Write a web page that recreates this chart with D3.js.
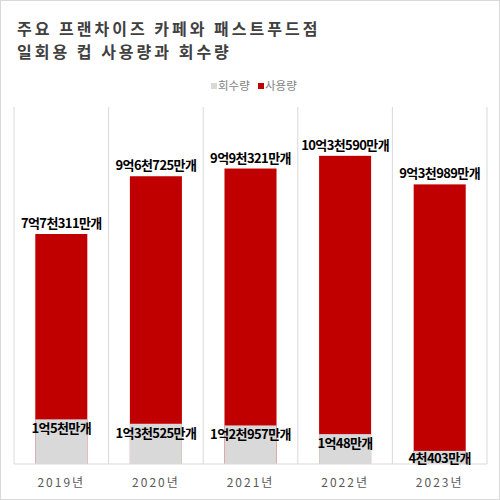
<!DOCTYPE html>
<html><head><meta charset="utf-8">
<script src="https://cdn.jsdelivr.net/npm/d3@7"></script>
<style>
html,body{margin:0;padding:0;background:#fff;}
text{font-family:"Noto Sans CJK KR","Noto Sans",sans-serif;}
</style></head>
<body>
<svg id="chart" width="500" height="500"></svg>
<script>
const titleLines = ["주요 프랜차이즈 카페와 패스트푸드점", "일회용 컵 사용량과 회수량"];
const categories = ["2019년", "2020년", "2021년", "2022년", "2023년"];
const seriesNames = ["회수량", "사용량"];
// values in 만개
const usage = [77311, 96725, 99321, 103590, 93989];
const usageLabels = ["7억7천311만개", "9억6천725만개", "9억9천321만개", "10억3천590만개", "9억3천989만개"];
const recovery = [15000, 13525, 12957, 10048, 4403];
const recoveryLabels = ["1억5천만개", "1억3천525만개", "1억2천957만개", "1억48만개", "4천403만개"];
const yMax = 120000;

(function(){
const svg = d3.select("#chart");
svg.append("rect").attr("x",0.5).attr("y",0.5).attr("width",499).attr("height",499)
  .attr("fill","#fff").attr("stroke","#d9d9d9");

const pLeft = 14, pRight = 487, pTop = 107, pBottom = 464;
const x = d3.scaleBand().domain(categories).range([pLeft, pRight]).paddingInner(0).paddingOuter(0);
const y = d3.scaleLinear().domain([0, yMax]).range([pBottom, pTop]);
const barW = x.bandwidth() * 0.55;
const bx = c => x(c) + (x.bandwidth() - barW) / 2;

// title
svg.append("g").selectAll("text").data(titleLines).join("text")
  .attr("x", 17).attr("y", (d,i) => 34.5 + i*23.4)
  .attr("font-size", 16).attr("font-weight", "bold").attr("fill", "#404040")
  .attr("letter-spacing", 3).text(d => d);

// legend
const legendColors = ["#d9d9d9", "#c00000"];
const lg = svg.append("g");
const legendX = [211, 258];
seriesNames.forEach((n,i) => {
  lg.append("rect").attr("x", legendX[i]).attr("y", 83).attr("width", 6).attr("height", 6).attr("fill", legendColors[i]);
  lg.append("text").attr("x", legendX[i] + 7).attr("y", 90).attr("font-size", 11.5).attr("fill", "#7f7f7f").text(n);
});

// vertical grid (category separators)
const bounds = categories.map(c => x(c)).concat([pRight]);
svg.append("g").selectAll("line").data(bounds).join("line")
  .attr("x1", d => d).attr("x2", d => d).attr("y1", pTop).attr("y2", pBottom)
  .attr("stroke", "#d9d9d9").attr("stroke-width", 1);

// usage bars (behind)
svg.append("g").selectAll("rect").data(usage).join("rect")
  .attr("x", (d,i) => bx(categories[i])).attr("width", barW)
  .attr("y", d => y(d)).attr("height", d => y(0) - y(d)).attr("fill", "#c00000");

// recovery bars (front)
svg.append("g").selectAll("rect").data(recovery).join("rect")
  .attr("x", (d,i) => bx(categories[i])).attr("width", barW)
  .attr("y", d => y(d)).attr("height", d => y(0) - y(d)).attr("fill", "#d9d9d9");

// baseline
svg.append("line").attr("x1", pLeft).attr("x2", pRight).attr("y1", pBottom).attr("y2", pBottom)
  .attr("stroke", "#d9d9d9");

// labels
svg.append("g").selectAll("text").data(usage).join("text")
  .attr("x", (d,i) => x(categories[i]) + x.bandwidth()/2).attr("y", d => y(d) - 6)
  .attr("text-anchor", "middle").attr("font-size", 13).attr("font-weight", "bold")
  .attr("letter-spacing", -0.6).attr("fill", "#000").text((d,i) => usageLabels[i]);

svg.append("g").selectAll("text").data(recovery).join("text")
  .attr("x", (d,i) => x(categories[i]) + x.bandwidth()/2).attr("y", d => Math.min(y(d) + 14, 463))
  .attr("text-anchor", "middle").attr("font-size", 13).attr("font-weight", "bold")
  .attr("letter-spacing", -0.6).attr("fill", "#000").text((d,i) => recoveryLabels[i]);

// x axis labels
const xAxis = d3.axisBottom(x).tickSize(0).tickPadding(0);
const ax = svg.append("g").attr("transform", `translate(0,${pBottom})`).call(xAxis);
ax.select(".domain").remove();
ax.selectAll("text").attr("y", 23).attr("dy", 0).attr("font-size", 12).attr("fill", "#595959")
  .attr("letter-spacing", 2).style("font-family", "'Noto Sans CJK KR', sans-serif");
})();
</script>
</body></html>
